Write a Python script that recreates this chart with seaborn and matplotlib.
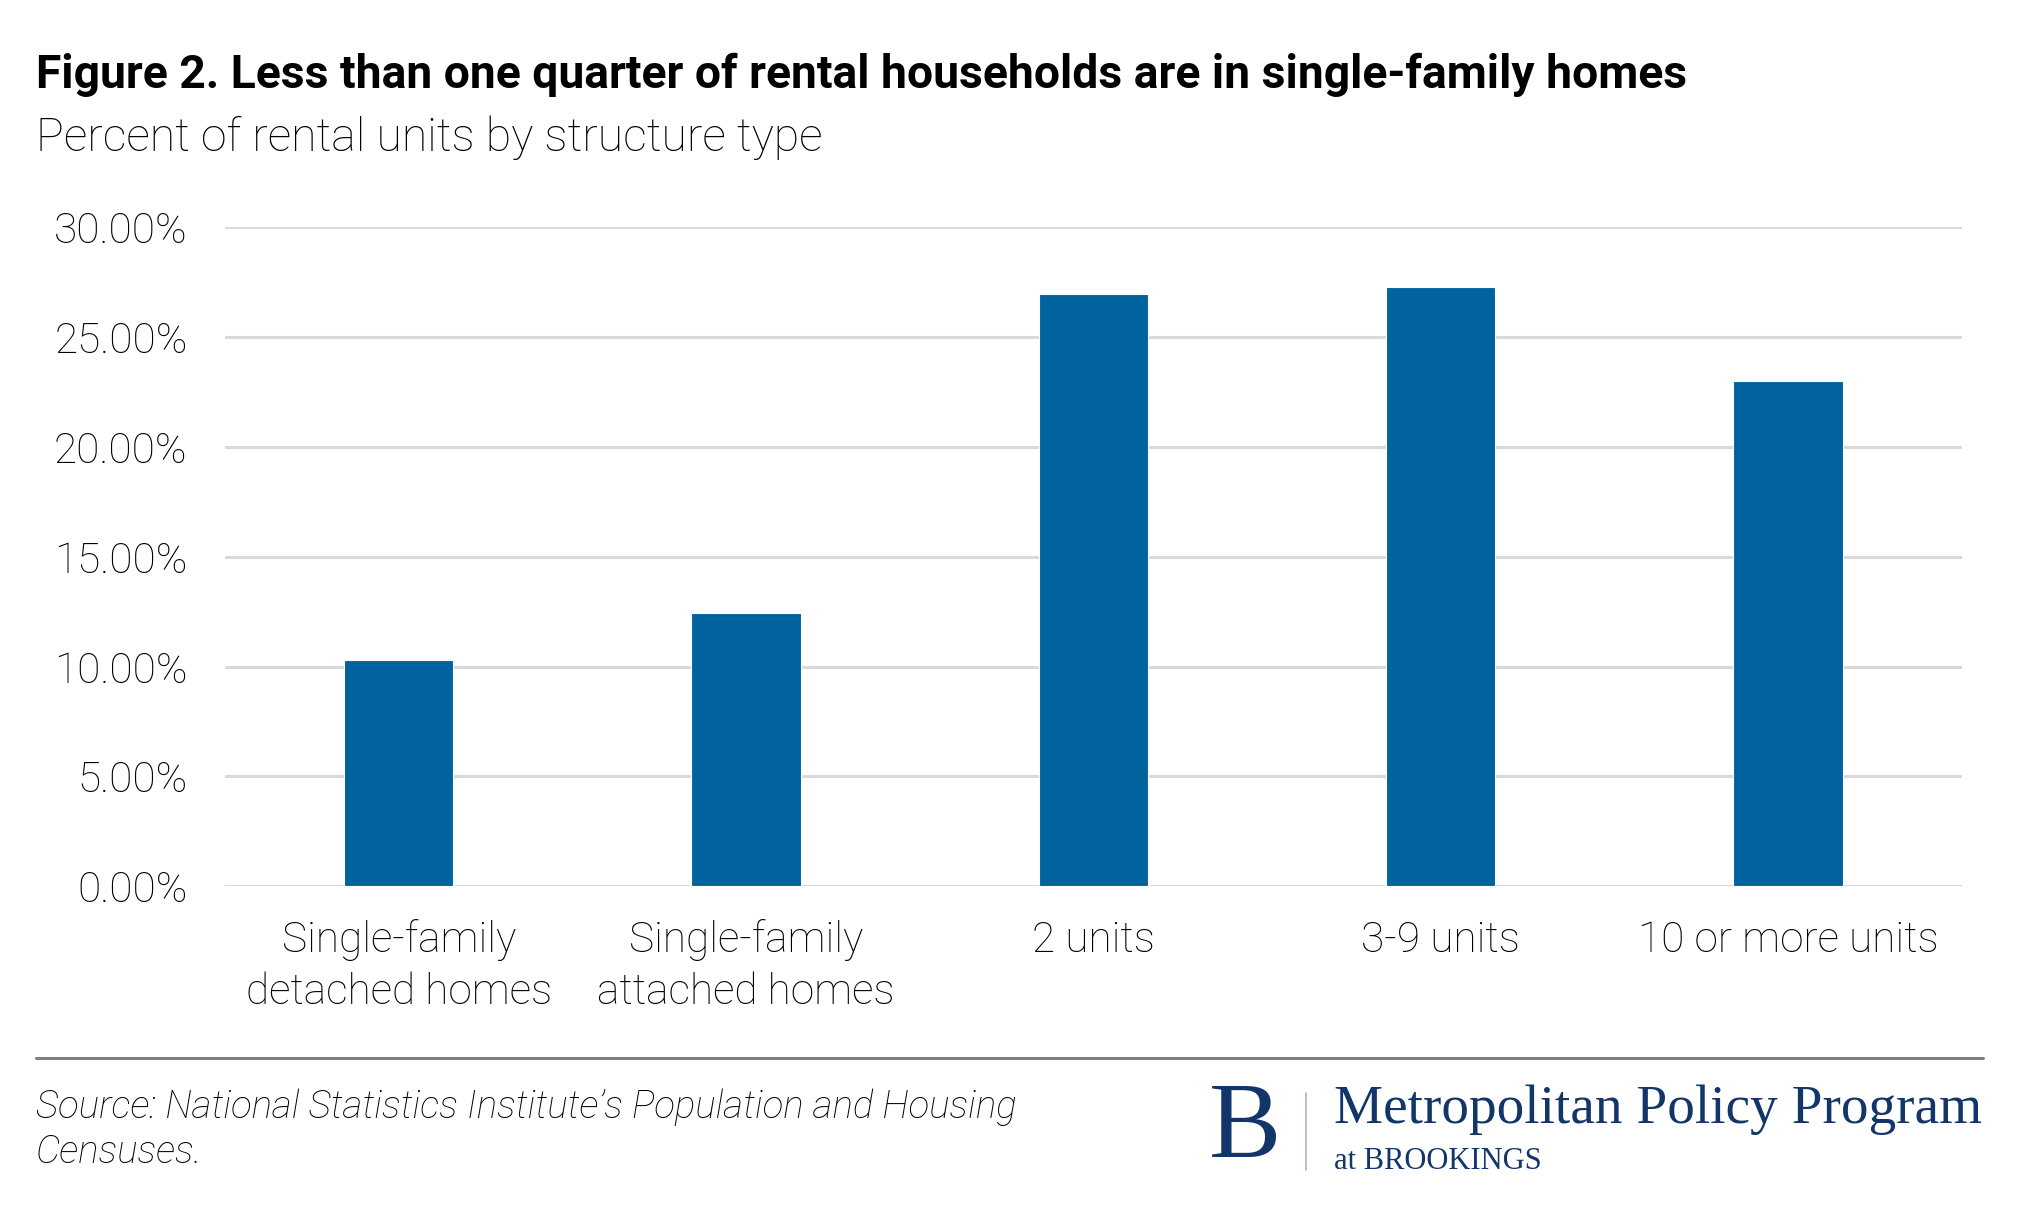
import numpy as np
import pandas as pd

import matplotlib.pyplot as plt
from matplotlib.lines import Line2D
from matplotlib.ticker import FuncFormatter
import seaborn as sns

sns.set_theme(style='white', context='paper')
plt.rcParams['font.family'] = ['Roboto', 'DejaVu Sans']

# data
categories = ['Single-family\ndetached homes', 'Single-family\nattached homes',
              '2 units', '3-9 units', '10 or more units']
shares = [10.29, 12.46, 26.96, 27.29, 23.01]
yticks = [0, 5, 10, 15, 20, 25, 30]

df = pd.DataFrame({'type': categories, 'share': shares})

bar_color = '#00639e'
navy = '#12366a'

fig = plt.figure(figsize=(20.17, 12.09), dpi=100)
ax = fig.add_axes([0.1116, 0.267, 0.861, 0.545])

sns.barplot(x='type', y='share', data=df, color=bar_color, width=0.315,
            saturation=1, ax=ax)

ax.set_ylim(0, 30)
ax.set_yticks(yticks)
ax.yaxis.set_major_formatter(FuncFormatter(lambda v, p: '{:.2f}%'.format(v)))
ax.set_xlabel('')
ax.set_ylabel('')
ax.set_xlim(-0.5, len(categories) - 0.5)

ax.grid(axis='y', color='#d9d9d9', linewidth=2.2)
ax.set_axisbelow(True)
for s in ax.spines.values():
    s.set_visible(False)
ax.tick_params(axis='both', length=0, labelsize=30.5, labelcolor='#000000')
ax.tick_params(axis='y', pad=27)
ax.tick_params(axis='x', pad=24)
for lab in ax.get_xticklabels() + ax.get_yticklabels():
    lab.set_fontweight('light')
for lab in ax.get_xticklabels():
    lab.set_linespacing(1.32)

# title block
fig.text(0.0179, 0.938, 'Figure 2. Less than one quarter of rental households are in single-family homes',
         fontsize=33.3, fontweight='bold', va='center', ha='left', color='black')
fig.text(0.0179, 0.886, 'Percent of rental units by structure type',
         fontsize=33.4, fontweight='light', va='center', ha='left', color='#000000')

# footer
fig.add_artist(Line2D([0.0179, 0.983], [0.1245, 0.1245], color='#808080', linewidth=2.2))
fig.text(0.0179, 0.084, 'Source: National Statistics Institute\u2019s Population and Housing',
         fontsize=27.7, style='italic', fontweight='light', va='center', ha='left', color='#000000')
fig.text(0.0179, 0.0468, 'Censuses.',
         fontsize=27.7, style='italic', fontweight='light', va='center', ha='left', color='#000000')

# logo
fig.text(0.6173, 0.0649, 'B', fontsize=78, family='Liberation Serif', color=navy,
         ha='center', va='center')
fig.add_artist(Line2D([0.6473, 0.6473], [0.032, 0.0957], color='#a9b4c6', linewidth=1.2))
fig.text(0.6614, 0.0819, 'Metropolitan Policy Program', fontsize=39.8,
         family='Liberation Serif', color=navy, ha='left', va='center')
fig.text(0.6614, 0.0394, 'at BROOKINGS', fontsize=22,
         family='Liberation Serif', color=navy, ha='left', va='center')

fig.savefig('out.png', dpi=100)
